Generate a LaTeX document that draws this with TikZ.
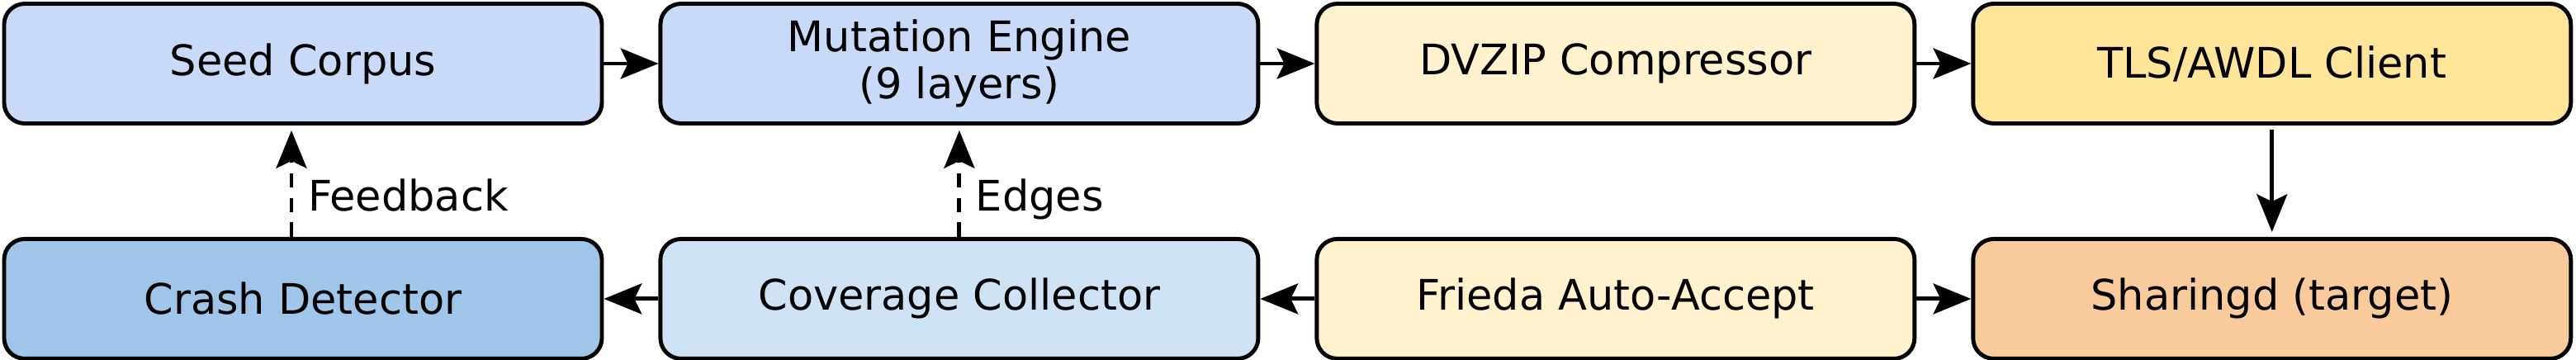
\documentclass[tikz,border=0pt]{standalone}
\usepackage{fontspec}
\setmainfont{DejaVu Sans}
\usepackage{xcolor}
\definecolor{corpusblue}{RGB}{201,218,248}
\definecolor{crashblue}{RGB}{159,197,232}
\definecolor{coverblue}{RGB}{207,226,243}
\definecolor{paleyellow}{RGB}{255,242,204}
\definecolor{clientyellow}{RGB}{255,229,153}
\definecolor{targetorange}{RGB}{249,203,156}
\usepackage{tikz}
\usetikzlibrary{arrows.meta,positioning}
\tikzset{
  stage/.style={draw=black, line width=1.4pt, rounded corners=0.25cm,
    minimum width=7.24cm, minimum height=1.45cm, align=center,
    font=\fontsize{14.5}{16.2}\selectfont, inner sep=0pt},
  flow/.style={line width=1.4pt, -{Stealth[length=13pt,width=10.5pt,inset=2.5pt]}},
  loopback/.style={flow, dash pattern=on 5pt off 3.5pt},
  tag/.style={font=\fontsize{14.5}{16.2}\selectfont, right, inner sep=5pt, text depth=0pt},
}

\begin{document}
\begin{tikzpicture}[node distance=1.35cm and 0.66cm]
\useasboundingbox (0,0) rectangle (31.2,4.35);
% pipeline, top row left to right
\node[stage, fill=corpusblue] (corpus) at (3.67,3.58) {Seed Corpus};
\node[stage, fill=corpusblue, right=of corpus] (mutator) {Mutation Engine\\(9 layers)};
\node[stage, fill=paleyellow, right=of mutator] (dvzip) {DVZIP Compressor};
\node[stage, fill=clientyellow, right=of dvzip] (client) {TLS/AWDL Client};
% bottom row, right to left
\node[stage, fill=targetorange, below=of client] (sharingd) {Sharingd (target)};
\node[stage, fill=paleyellow, left=of sharingd] (frieda) {Frieda Auto-Accept};
\node[stage, fill=coverblue, left=of frieda] (coverage) {Coverage Collector};
\node[stage, fill=crashblue, left=of coverage] (crash) {Crash Detector};

\draw[flow] (corpus) -- (mutator);
\draw[flow] (mutator) -- (dvzip);
\draw[flow] (dvzip) -- (client);
\draw[flow, shorten <=0.05cm, shorten >=0.06cm] (client) -- (sharingd);
\draw[flow] (frieda) -- (sharingd);
\draw[flow] (frieda) -- (coverage);
\draw[flow] (coverage) -- (crash);
% feedback loops
\draw[loopback, shorten >=0.06cm] ([xshift=-1.4mm]crash.north) -- ([xshift=-1.4mm]corpus.south)
  node[tag, pos=0.38] {Feedback};
\draw[loopback, shorten >=0.06cm] (coverage) -- (mutator)
  node[tag, pos=0.38] {Edges};
\end{tikzpicture}
\end{document}
